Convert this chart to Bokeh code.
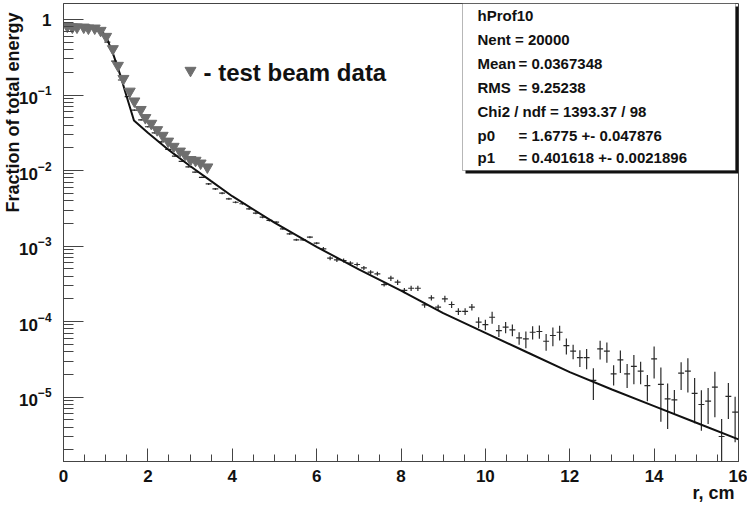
import math
from bokeh.plotting import figure
from bokeh.models import (Range1d, FixedTicker, SingleIntervalTicker, Label, BoxAnnotation,
                          LogTickFormatter, Title)
from bokeh.embed import file_html
from bokeh.resources import INLINE

# ---------------- data ----------------
bin_width = 0.16
n_bins = 100
r_min, r_max = 0.0, 16.0

# simulated profile (histogram with error bars), one value per bin
frac = [
    0.851, 0.841, 0.832, 0.813, 0.776, 0.692, 0.501, 0.282, 0.158, 0.0955,
    0.0631, 0.0468, 0.0380, 0.0316, 0.0240, 0.0191, 0.0155, 0.0132, 0.0112, 0.00955,
    0.00813, 6.65e-3, 5.71e-3, 5.01e-3, 4.22e-3, 3.80e-3, 3.63e-3, 3.11e-3, 2.72e-3, 2.41e-3,
    2.18e-3, 2.07e-3, 1.69e-3, 1.45e-3, 1.21e-3, 1.21e-3, 1.31e-3, 1.09e-3, 9.18e-4, 6.90e-4,
    6.56e-4, 6.43e-4, 5.92e-4, 5.69e-4, 5.14e-4, 4.50e-4, 4.29e-4, 3.09e-4, 3.75e-4, 3.32e-4,
    2.58e-4, 2.76e-4, 2.76e-4, 1.66e-4, 2.06e-4, 1.55e-4, 2.00e-4, 1.68e-4, 1.36e-4, 1.36e-4,
    1.55e-4, 9.79e-5, 9.12e-5, 1.14e-4, 7.60e-5, 8.41e-5, 7.76e-5, 6.08e-5, 5.90e-5, 7.21e-5,
    7.38e-5, 5.48e-5, 6.53e-5, 7.21e-5, 4.81e-5, 4.05e-5, 3.33e-5, 3.33e-5, 1.66e-5, 4.35e-5,
    4.05e-5, 2.03e-5, 3.10e-5, 2.03e-5, 2.54e-5, 2.20e-5, 1.42e-5, 3.21e-5, 1.47e-5, 9.46e-6,
    9.18e-6, 2.07e-5, 2.20e-5, 1.12e-5, 7.96e-6, 8.81e-6, 1.35e-5, 3.0e-6, 1.02e-5, 6.30e-6,
]

# relative error of each bin
rel_err = [
    0.01, 0.01, 0.01, 0.01, 0.01, 0.01, 0.01, 0.01, 0.01, 0.01,
    0.02, 0.02, 0.02, 0.02, 0.02, 0.02, 0.02, 0.02, 0.02, 0.02,
    0.02, 0.03, 0.03, 0.03, 0.03, 0.03, 0.03, 0.03, 0.03, 0.03,
    0.03, 0.03, 0.03, 0.03, 0.03, 0.03, 0.03, 0.03, 0.06, 0.06,
    0.06, 0.06, 0.06, 0.06, 0.06, 0.06, 0.06, 0.06, 0.08, 0.08,
    0.08, 0.08, 0.08, 0.08, 0.08, 0.08, 0.10, 0.10, 0.10, 0.10,
    0.10, 0.16, 0.16, 0.18, 0.18, 0.17, 0.18, 0.19, 0.25, 0.20,
    0.20, 0.25, 0.28, 0.22, 0.24, 0.22, 0.25, 0.30, 0.45, 0.28,
    0.30, 0.30, 0.33, 0.35, 0.42, 0.33, 0.38, 0.45, 0.68, 0.60,
    0.35, 0.40, 0.48, 0.60, 0.55, 0.50, 0.60, 0.70, 0.50, 0.60,
]

# test beam data (triangles)
beam_r = [0.09, 0.21, 0.32, 0.48, 0.59, 0.74, 0.88, 1.01, 1.17, 1.29,
          1.42, 1.57, 1.68, 1.83, 1.94, 2.08, 2.22, 2.35, 2.48, 2.61,
          2.76, 2.88, 3.01, 3.13, 3.25, 3.41]
beam_frac = [0.815, 0.79, 0.79, 0.79, 0.767, 0.767, 0.715, 0.595, 0.409, 0.246,
             0.165, 0.112, 0.083, 0.064, 0.050, 0.042, 0.0346, 0.0291, 0.0244, 0.0208,
             0.018, 0.0163, 0.0139, 0.0136, 0.0125, 0.0111]

# fitted curve
fit_r = [0.0, 0.3, 0.6, 0.8, 1.0, 1.19, 1.35, 1.47, 1.67, 2.0, 2.5, 3.0, 3.5, 4.0,
         5.0, 6.0, 7.0, 8.0, 9.0, 10.0, 11.0, 12.0, 13.0, 14.0, 15.0, 16.0]
fit_frac = [0.871, 0.861, 0.832, 0.776, 0.617, 0.333, 0.181, 0.107, 0.0459, 0.0316,
            0.0186, 0.0115, 7.24e-3, 4.57e-3, 2.04e-3, 9.77e-4, 4.90e-4, 2.57e-4,
            1.29e-4, 7.08e-5, 3.89e-5, 2.14e-5, 1.26e-5, 7.59e-6, 4.57e-6, 2.75e-6]

y_decades = [0, -1, -2, -3, -4, -5]

y_title = "Fraction of total energy"
x_title = "r, cm"

stats_lines = [
    ("hProf10", None),
    ("Nent = 20000", None),
    ("Mean", "= 0.0367348"),
    ("RMS", "= 9.25238"),
    ("Chi2 / ndf = 1393.37 / 98", None),
    ("p0", "= 1.6775 +- 0.047876"),
    ("p1", "= 0.401618 +- 0.0021896"),
]

# ---------------- layout ----------------
W, H = 747, 505
ML, MT = 63, 3
FRAME_R, FRAME_B = 738, 461
MR, MB = W - FRAME_R, H - FRAME_B
FW, FH = W - ML - MR, H - MT - MB
y_lo, y_hi = 1.40e-6, 1.63
LY0, LY1 = math.log10(y_lo), math.log10(y_hi)


def px_x(px):
    """canvas pixel -> data x"""
    return r_min + (px - ML) / FW * (r_max - r_min)


def px_y(py):
    """canvas pixel -> data y (log axis)"""
    return 10 ** (LY1 - (py - MT) / FH * (LY1 - LY0))


FONT = "Liberation Sans"
INK = "#111111"

p = figure(width=W, height=H, x_range=Range1d(r_min, r_max), y_range=Range1d(y_lo, y_hi),
           y_axis_type="log", output_backend="svg", toolbar_location=None,
           min_border_left=ML, min_border_right=MR, min_border_top=MT, min_border_bottom=MB)
p.xgrid.visible = False
p.ygrid.visible = False
p.background_fill_color = "white"
p.border_fill_color = "white"
p.outline_line_color = "#444444"
p.outline_line_width = 1

p.xaxis.ticker = SingleIntervalTicker(interval=2, num_minor_ticks=4)
minor_y = [k * 10.0 ** e for e in range(-6, 1) for k in range(2, 10)]
p.yaxis.ticker = FixedTicker(ticks=[10.0 ** e for e in y_decades], minor_ticks=minor_y)
p.yaxis.formatter = LogTickFormatter(min_exponent=1)

for ax in (p.xaxis[0], p.yaxis[0]):
    ax.axis_line_color = "#444444"
    ax.major_tick_line_color = "#444444"
    ax.minor_tick_line_color = "#444444"
    ax.major_tick_out = 0
    ax.minor_tick_out = 0
    ax.major_label_text_font = FONT
    ax.major_label_text_font_style = "bold"
    ax.major_label_text_font_size = "17px"
    ax.major_label_text_color = INK
p.yaxis.major_tick_in = 20
p.yaxis.minor_tick_in = 10
p.xaxis.major_tick_in = 13
p.xaxis.minor_tick_in = 7
p.yaxis.major_label_standoff = 12
p.xaxis.major_label_standoff = 8

# y title: ROOT puts it at the top end of the axis; Bokeh centres axis labels,
# so leading no-break spaces push the visible words to the upper end.
p.yaxis.axis_label = "\u00a0" * 48 + y_title
p.yaxis.axis_label_standoff = -7
p.yaxis.axis_label_text_font = FONT
p.yaxis.axis_label_text_font_style = "bold"
p.yaxis.axis_label_text_font_size = "18px"
p.yaxis.axis_label_text_color = INK

p.add_layout(Title(text=x_title, align="right", offset=4, standoff=-8, text_font=FONT,
                   text_font_style="bold", text_font_size="18px", text_color=INK), "below")

# histogram crosses
centers = [r_min + bin_width * (i + 0.5) for i in range(n_bins)]
half = 0.07
lo = [max(v * (1 - e), 1e-9) for v, e in zip(frac, rel_err)]
hi = [v * (1 + e) for v, e in zip(frac, rel_err)]
p.segment(x0=[c - half for c in centers], y0=frac, x1=[c + half for c in centers], y1=frac,
          line_color="#2a2a2a", line_width=1.2)
p.segment(x0=centers, y0=lo, x1=centers, y1=hi, line_color="#2a2a2a", line_width=1.2)

# fit line
p.line(fit_r, fit_frac, line_color=INK, line_width=2)

# test beam triangles
p.scatter(beam_r, beam_frac, marker="inverted_triangle", size=11,
          fill_color="#6e6e6e", line_color="#6e6e6e")

# legend entry for test beam data
p.scatter([px_x(190)], [px_y(70)], marker="inverted_triangle", size=11,
          fill_color="#6e6e6e", line_color="#6e6e6e")
p.add_layout(Label(x=px_x(203), y=px_y(72), text="- test beam data", text_font=FONT,
                   text_font_style="bold", text_font_size="24px", text_color=INK,
                   text_baseline="middle", text_align="left"))

# stats box
p.add_layout(BoxAnnotation(left=px_x(465), right=px_x(738), top=px_y(6), bottom=px_y(173),
                           fill_color=INK, fill_alpha=1.0, line_alpha=0))
p.add_layout(BoxAnnotation(left=px_x(462), right=px_x(735), top=px_y(3), bottom=px_y(170),
                           fill_color="white", fill_alpha=1.0, line_color=INK, line_width=1))
line_py = [15, 39.3, 62.7, 87.3, 110.7, 135, 157.3]
for (a, b), py in zip(stats_lines, line_py):
    p.add_layout(Label(x=px_x(477), y=px_y(py), text=a, text_font=FONT, text_font_style="bold",
                       text_font_size="15px", text_color=INK, text_baseline="middle"))
    if b is not None:
        p.add_layout(Label(x=px_x(518), y=px_y(py), text=b, text_font=FONT, text_font_style="bold",
                           text_font_size="15px", text_color=INK, text_baseline="middle"))

open("out.html", "w").write(file_html(p, INLINE))
